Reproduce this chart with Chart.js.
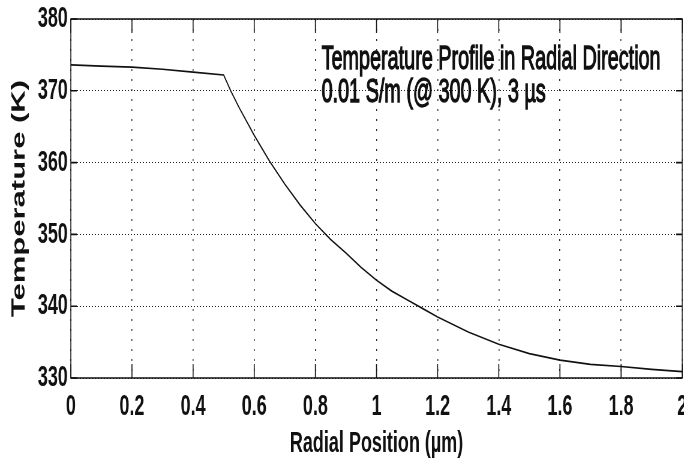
<!DOCTYPE html>
<html lang="en">
<head>
    <meta charset="UTF-8">
    <title>Temperature Profile in Radial Direction</title>
    <script src="https://cdn.jsdelivr.net/npm/chart.js"></script>
    <style>
        html, body { margin: 0; padding: 0; background: #fff; overflow: hidden; }
    </style>
</head>
<body>
    <!-- drawn wide, shown narrow: gives the condensed plot lettering -->
    <canvas id="tempChart" width="1140" height="466" style="width:684px;height:466px;display:block"></canvas>

    <script>
        // radial position (um) and temperature (K)
        var radius = [0, 0.1, 0.2, 0.3, 0.4, 0.5, 0.523, 0.55, 0.6, 0.65, 0.7, 0.75, 0.8, 0.85, 0.9, 0.95, 1.0, 1.05, 1.1, 1.15, 1.2, 1.3, 1.4, 1.5, 1.6, 1.7, 1.8, 1.9, 2.0];
        var temperature = [373.6, 373.45, 373.3, 373.0, 372.6, 372.2, 370.0, 367.7, 363.8, 360.2, 357.0, 354.1, 351.5, 349.3, 347.4, 345.4, 343.6, 342.1, 340.9, 339.7, 338.5, 336.4, 334.7, 333.4, 332.5, 331.9, 331.6, 331.2, 330.9];

        var xTicks = [0, 0.2, 0.4, 0.6, 0.8, 1, 1.2, 1.4, 1.6, 1.8, 2];
        var yTicks = [330, 340, 350, 360, 370, 380];

        var noteLines = ['Temperature Profile in Radial Direction', '0.01 S/m (@ 300 K), 3 \u00b5s'];

        var FONT = "'Liberation Sans', Arial, Helvetica, sans-serif";

        // matlab style box, inward ticks and the note text
        var boxPlugin = {
            id: 'boxPlugin',
            afterDraw: function(chart) {
                var ctx = chart.ctx;
                var a = chart.chartArea;
                var xs = chart.scales.x, ys = chart.scales.y;
                ctx.save();
                ctx.strokeStyle = '#111';
                ctx.lineWidth = 1.5;
                ctx.strokeRect(a.left, a.top, a.right - a.left, a.bottom - a.top);

                ctx.lineWidth = 1.6;
                ctx.beginPath();
                xTicks.forEach(function(v) {
                    var px = xs.getPixelForValue(v);
                    ctx.moveTo(px, a.bottom); ctx.lineTo(px, a.bottom - 14);
                    ctx.moveTo(px, a.top); ctx.lineTo(px, a.top + 14);
                });
                yTicks.forEach(function(v) {
                    var py = ys.getPixelForValue(v);
                    ctx.moveTo(a.left, py); ctx.lineTo(a.left + 10, py);
                    ctx.moveTo(a.right, py); ctx.lineTo(a.right - 10, py);
                });
                ctx.stroke();

                // note in the upper right, slightly stroked for weight
                ctx.fillStyle = '#111';
                ctx.strokeStyle = '#111';
                ctx.lineWidth = 1.3;
                ctx.font = '33px ' + FONT;
                ctx.textAlign = 'left';
                ctx.textBaseline = 'alphabetic';
                noteLines.forEach(function(line, i) {
                    ctx.fillText(line, 536, 69 + i * 33);
                    ctx.strokeText(line, 536, 69 + i * 33);
                });
                ctx.restore();
            }
        };

        var ctx = document.getElementById('tempChart').getContext('2d');
        var tempChart = new Chart(ctx, {
            type: 'line',
            data: {
                datasets: [{
                    data: radius.map(function(r, i) { return { x: r, y: temperature[i] }; }),
                    borderColor: '#111',
                    borderWidth: 1.7,
                    pointRadius: 0,
                    tension: 0,
                    fill: false
                }]
            },
            options: {
                responsive: false,
                devicePixelRatio: 1,
                animation: false,
                layout: { padding: { top: 19, right: 3, left: 0, bottom: 0 } },
                plugins: {
                    legend: { display: false },
                    tooltip: { enabled: false }
                },
                scales: {
                    x: {
                        type: 'linear',
                        min: 0,
                        max: 2,
                        afterBuildTicks: function(scale) {
                            scale.ticks = xTicks.map(function(v) { return { value: v }; });
                        },
                        afterFit: function(scale) {
                            scale.height = 88;
                            scale.paddingLeft = 0;
                            scale.paddingRight = 0;
                        },
                        grid: { color: '#222', lineWidth: 1.5, drawTicks: false },
                        border: { display: false, dash: [2, 8] },
                        ticks: {
                            color: '#111',
                            padding: 11,
                            maxRotation: 0,
                            font: { family: FONT, size: 30, weight: 'bold' },
                            callback: function(v) { return String(+v.toFixed(1)); }
                        },
                        title: {
                            display: true,
                            text: 'Radial Position (\u00b5m)',
                            color: '#111',
                            padding: { top: 2 },
                            font: { family: FONT, size: 30, weight: 'bold' }
                        }
                    },
                    y: {
                        min: 330,
                        max: 380,
                        afterBuildTicks: function(scale) {
                            scale.ticks = yTicks.map(function(v) { return { value: v }; });
                        },
                        afterFit: function(scale) {
                            scale.width = 118;
                            scale.paddingTop = 0;
                            scale.paddingBottom = 0;
                        },
                        grid: { color: '#222', lineWidth: 1, drawTicks: false },
                        border: { display: false, dash: [2, 3] },
                        ticks: {
                            color: '#111',
                            padding: 5,
                            font: { family: FONT, size: 30, weight: 'bold' }
                        },
                        title: {
                            display: true,
                            text: 'Temperature (K)',
                            color: '#111',
                            padding: { top: 14, bottom: 0 },
                            font: { family: FONT, size: 31, weight: 'bold' }
                        }
                    }
                }
            },
            plugins: [boxPlugin]
        });
    </script>
</body>
</html>
